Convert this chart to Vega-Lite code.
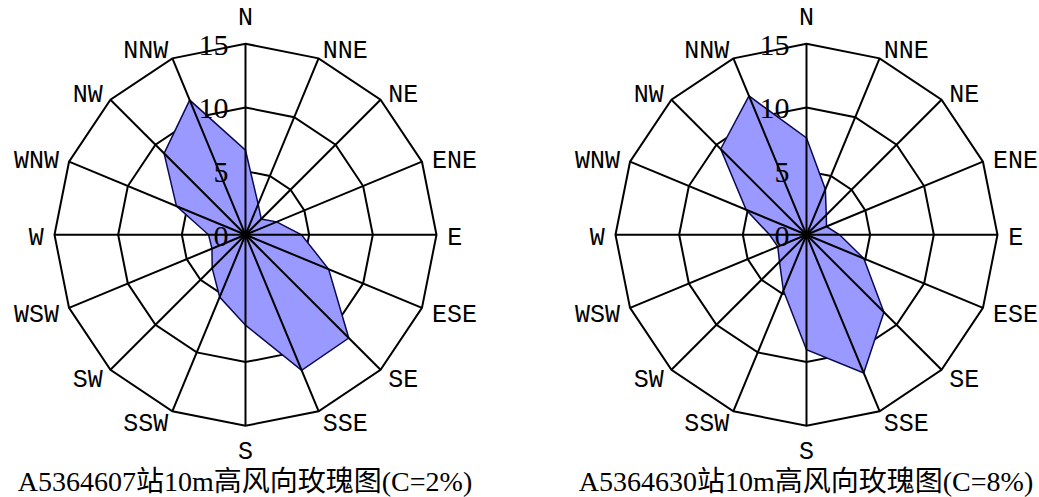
{
  "$schema": "https://vega.github.io/schema/vega-lite/v6.json",
  "background": "white",
  "padding": 0,
  "spacing": 83,
  "bounds": "flush",
  "config": {"view": {"stroke": null}},
  "datasets": {
    "dirs": [
      {"dir": "N", "deg": 0, "rings": [5, 10, 15]},
      {"dir": "NNE", "deg": 22.5, "rings": [5, 10, 15]},
      {"dir": "NE", "deg": 45, "rings": [5, 10, 15]},
      {"dir": "ENE", "deg": 67.5, "rings": [5, 10, 15]},
      {"dir": "E", "deg": 90, "rings": [5, 10, 15]},
      {"dir": "ESE", "deg": 112.5, "rings": [5, 10, 15]},
      {"dir": "SE", "deg": 135, "rings": [5, 10, 15]},
      {"dir": "SSE", "deg": 157.5, "rings": [5, 10, 15]},
      {"dir": "S", "deg": 180, "rings": [5, 10, 15]},
      {"dir": "SSW", "deg": 202.5, "rings": [5, 10, 15]},
      {"dir": "SW", "deg": 225, "rings": [5, 10, 15]},
      {"dir": "WSW", "deg": 247.5, "rings": [5, 10, 15]},
      {"dir": "W", "deg": 270, "rings": [5, 10, 15]},
      {"dir": "WNW", "deg": 292.5, "rings": [5, 10, 15]},
      {"dir": "NW", "deg": 315, "rings": [5, 10, 15]},
      {"dir": "NNW", "deg": 337.5, "rings": [5, 10, 15]}
    ],
    "ticks": [{"tick": 0}, {"tick": 5}, {"tick": 10}, {"tick": 15}],
    "rose": [
      {"station": "A5364607", "dir": "N", "deg": 0, "freq": 6.64},
      {"station": "A5364607", "dir": "NNE", "deg": 22.5, "freq": 2.6},
      {"station": "A5364607", "dir": "NE", "deg": 45, "freq": 1.75},
      {"station": "A5364607", "dir": "ENE", "deg": 67.5, "freq": 2.65},
      {"station": "A5364607", "dir": "E", "deg": 90, "freq": 4.4},
      {"station": "A5364607", "dir": "ESE", "deg": 112.5, "freq": 7.07},
      {"station": "A5364607", "dir": "SE", "deg": 135, "freq": 11.47},
      {"station": "A5364607", "dir": "SSE", "deg": 157.5, "freq": 11.52},
      {"station": "A5364607", "dir": "S", "deg": 180, "freq": 7.1},
      {"station": "A5364607", "dir": "SSW", "deg": 202.5, "freq": 5.3},
      {"station": "A5364607", "dir": "SW", "deg": 225, "freq": 3.7},
      {"station": "A5364607", "dir": "WSW", "deg": 247.5, "freq": 2.85},
      {"station": "A5364607", "dir": "W", "deg": 270, "freq": 2.9},
      {"station": "A5364607", "dir": "WNW", "deg": 292.5, "freq": 5.87},
      {"station": "A5364607", "dir": "NW", "deg": 315, "freq": 9.04},
      {"station": "A5364607", "dir": "NNW", "deg": 337.5, "freq": 11.45},
      {"station": "A5364630", "dir": "N", "deg": 0, "freq": 7.6},
      {"station": "A5364630", "dir": "NNE", "deg": 22.5, "freq": 3.87},
      {"station": "A5364630", "dir": "NE", "deg": 45, "freq": 2.2},
      {"station": "A5364630", "dir": "ENE", "deg": 67.5, "freq": 1.7},
      {"station": "A5364630", "dir": "E", "deg": 90, "freq": 2.6},
      {"station": "A5364630", "dir": "ESE", "deg": 112.5, "freq": 4.87},
      {"station": "A5364630", "dir": "SE", "deg": 135, "freq": 8.6},
      {"station": "A5364630", "dir": "SSE", "deg": 157.5, "freq": 11.74},
      {"station": "A5364630", "dir": "S", "deg": 180, "freq": 9.03},
      {"station": "A5364630", "dir": "SSW", "deg": 202.5, "freq": 4.74},
      {"station": "A5364630", "dir": "SW", "deg": 225, "freq": 3.0},
      {"station": "A5364630", "dir": "WSW", "deg": 247.5, "freq": 2.44},
      {"station": "A5364630", "dir": "W", "deg": 270, "freq": 2.9},
      {"station": "A5364630", "dir": "WNW", "deg": 292.5, "freq": 5.13},
      {"station": "A5364630", "dir": "NW", "deg": 315, "freq": 9.53},
      {"station": "A5364630", "dir": "NNW", "deg": 337.5, "freq": 11.8}
    ]
  },
  "hconcat": [
    {
      "width": 478,
      "height": 466,
      "title": {"text": "A5364607站10m高风向玫瑰图(C=2%)", "orient": "bottom", "offset": 3, "fontSize": 28, "font": "Liberation Serif, Noto Sans CJK SC", "fontWeight": "normal", "color": "black", "dx": 6},
      "encoding": {
        "x": {"field": "px", "type": "quantitative", "scale": {"domain": [-19.28, 18.26], "nice": false, "zero": false}, "axis": null},
        "y": {"field": "py", "type": "quantitative", "scale": {"domain": [-18.16, 18.44], "nice": false, "zero": false}, "axis": null}
      },
      "layer": [
        {
          "data": {"name": "dirs"},
          "transform": [
            {"flatten": ["rings"]},
            {"calculate": "datum.rings * sin(datum.deg * PI / 180)", "as": "px"},
            {"calculate": "datum.rings * cos(datum.deg * PI / 180)", "as": "py"}
          ],
          "mark": {"type": "line", "interpolate": "linear-closed", "stroke": "black", "strokeWidth": 2},
          "encoding": {"detail": {"field": "rings", "type": "nominal"}, "order": {"field": "deg", "type": "quantitative"}}
        },
        {
          "data": {"name": "rose"},
          "transform": [
            {"filter": "datum.station == 'A5364607'"},
            {"calculate": "datum.freq * sin(datum.deg * PI / 180)", "as": "px"},
            {"calculate": "datum.freq * cos(datum.deg * PI / 180)", "as": "py"}
          ],
          "mark": {"type": "line", "interpolate": "linear-closed", "fill": "#9999ff", "stroke": "#0a0a50", "strokeWidth": 1.5},
          "encoding": {"order": {"field": "deg", "type": "quantitative"}}
        },
        {
          "data": {"name": "dirs"},
          "transform": [
            {"calculate": "15 * sin(datum.deg * PI / 180)", "as": "px"},
            {"calculate": "15 * cos(datum.deg * PI / 180)", "as": "py"}
          ],
          "mark": {"type": "rule", "stroke": "black", "strokeWidth": 2},
          "encoding": {"x2": {"datum": 0}, "y2": {"datum": 0}}
        },
        {
          "data": {"name": "ticks"},
          "transform": [
            {"calculate": "0", "as": "px"},
            {"calculate": "datum.tick", "as": "py"}
          ],
          "mark": {"type": "text", "align": "right", "baseline": "middle", "dx": -17, "dy": 2, "fontSize": 30, "font": "Liberation Serif", "color": "black"},
          "encoding": {"text": {"field": "tick", "type": "nominal"}}
        },
        {
          "data": {"name": "dirs"},
          "transform": [
            {"filter": "datum.deg > 0 && datum.deg < 180"},
            {"calculate": "15.85 * sin(datum.deg * PI / 180)", "as": "px"},
            {"calculate": "15.85 * cos(datum.deg * PI / 180)", "as": "py"}
          ],
          "mark": {"type": "text", "align": "left", "baseline": "middle", "dy": 2, "fontSize": 25, "font": "Liberation Mono", "color": "black"},
          "encoding": {"text": {"field": "dir", "type": "nominal"}}
        },
        {
          "data": {"name": "dirs"},
          "transform": [
            {"filter": "datum.deg > 180"},
            {"calculate": "15.85 * sin(datum.deg * PI / 180)", "as": "px"},
            {"calculate": "15.85 * cos(datum.deg * PI / 180)", "as": "py"}
          ],
          "mark": {"type": "text", "align": "right", "baseline": "middle", "dy": 2, "fontSize": 25, "font": "Liberation Mono", "color": "black"},
          "encoding": {"text": {"field": "dir", "type": "nominal"}}
        },
        {
          "data": {"name": "dirs"},
          "transform": [
            {"filter": "datum.deg == 0 || datum.deg == 180"},
            {"calculate": "17.05 * sin(datum.deg * PI / 180)", "as": "px"},
            {"calculate": "17.05 * cos(datum.deg * PI / 180)", "as": "py"}
          ],
          "mark": {"type": "text", "align": "center", "baseline": "middle", "dy": -1, "fontSize": 25, "font": "Liberation Mono", "color": "black"},
          "encoding": {"text": {"field": "dir", "type": "nominal"}}
        }
      ]
    },
    {
      "width": 478,
      "height": 466,
      "title": {"text": "A5364630站10m高风向玫瑰图(C=8%)", "orient": "bottom", "offset": 3, "fontSize": 28, "font": "Liberation Serif, Noto Sans CJK SC", "fontWeight": "normal", "color": "black", "dx": 6},
      "encoding": {
        "x": {"field": "px", "type": "quantitative", "scale": {"domain": [-19.28, 18.26], "nice": false, "zero": false}, "axis": null},
        "y": {"field": "py", "type": "quantitative", "scale": {"domain": [-18.16, 18.44], "nice": false, "zero": false}, "axis": null}
      },
      "layer": [
        {
          "data": {"name": "dirs"},
          "transform": [
            {"flatten": ["rings"]},
            {"calculate": "datum.rings * sin(datum.deg * PI / 180)", "as": "px"},
            {"calculate": "datum.rings * cos(datum.deg * PI / 180)", "as": "py"}
          ],
          "mark": {"type": "line", "interpolate": "linear-closed", "stroke": "black", "strokeWidth": 2},
          "encoding": {"detail": {"field": "rings", "type": "nominal"}, "order": {"field": "deg", "type": "quantitative"}}
        },
        {
          "data": {"name": "rose"},
          "transform": [
            {"filter": "datum.station == 'A5364630'"},
            {"calculate": "datum.freq * sin(datum.deg * PI / 180)", "as": "px"},
            {"calculate": "datum.freq * cos(datum.deg * PI / 180)", "as": "py"}
          ],
          "mark": {"type": "line", "interpolate": "linear-closed", "fill": "#9999ff", "stroke": "#0a0a50", "strokeWidth": 1.5},
          "encoding": {"order": {"field": "deg", "type": "quantitative"}}
        },
        {
          "data": {"name": "dirs"},
          "transform": [
            {"calculate": "15 * sin(datum.deg * PI / 180)", "as": "px"},
            {"calculate": "15 * cos(datum.deg * PI / 180)", "as": "py"}
          ],
          "mark": {"type": "rule", "stroke": "black", "strokeWidth": 2},
          "encoding": {"x2": {"datum": 0}, "y2": {"datum": 0}}
        },
        {
          "data": {"name": "ticks"},
          "transform": [
            {"calculate": "0", "as": "px"},
            {"calculate": "datum.tick", "as": "py"}
          ],
          "mark": {"type": "text", "align": "right", "baseline": "middle", "dx": -17, "dy": 2, "fontSize": 30, "font": "Liberation Serif", "color": "black"},
          "encoding": {"text": {"field": "tick", "type": "nominal"}}
        },
        {
          "data": {"name": "dirs"},
          "transform": [
            {"filter": "datum.deg > 0 && datum.deg < 180"},
            {"calculate": "15.85 * sin(datum.deg * PI / 180)", "as": "px"},
            {"calculate": "15.85 * cos(datum.deg * PI / 180)", "as": "py"}
          ],
          "mark": {"type": "text", "align": "left", "baseline": "middle", "dy": 2, "fontSize": 25, "font": "Liberation Mono", "color": "black"},
          "encoding": {"text": {"field": "dir", "type": "nominal"}}
        },
        {
          "data": {"name": "dirs"},
          "transform": [
            {"filter": "datum.deg > 180"},
            {"calculate": "15.85 * sin(datum.deg * PI / 180)", "as": "px"},
            {"calculate": "15.85 * cos(datum.deg * PI / 180)", "as": "py"}
          ],
          "mark": {"type": "text", "align": "right", "baseline": "middle", "dy": 2, "fontSize": 25, "font": "Liberation Mono", "color": "black"},
          "encoding": {"text": {"field": "dir", "type": "nominal"}}
        },
        {
          "data": {"name": "dirs"},
          "transform": [
            {"filter": "datum.deg == 0 || datum.deg == 180"},
            {"calculate": "17.05 * sin(datum.deg * PI / 180)", "as": "px"},
            {"calculate": "17.05 * cos(datum.deg * PI / 180)", "as": "py"}
          ],
          "mark": {"type": "text", "align": "center", "baseline": "middle", "dy": -1, "fontSize": 25, "font": "Liberation Mono", "color": "black"},
          "encoding": {"text": {"field": "dir", "type": "nominal"}}
        }
      ]
    }
  ]
}
